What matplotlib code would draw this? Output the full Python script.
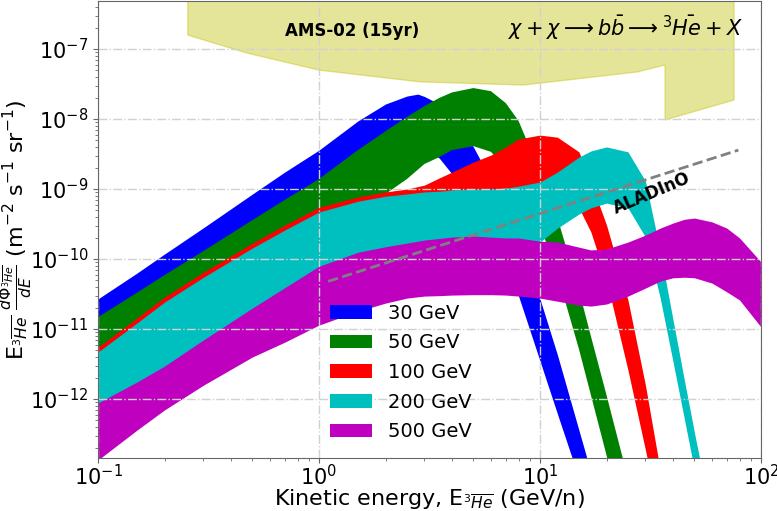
import matplotlib
matplotlib.use('Agg')
import matplotlib.pyplot as plt

# энергии (GeV/n) и потоки для каждой массы тёмной материи
e30 = [0.1, 0.15, 0.2, 0.3, 0.5, 0.7, 1, 1.5, 2, 2.5, 2.8, 3, 3.5, 4, 5, 6, 7, 8, 10, 12, 15, 17, 20]
hi30 = [2.7e-11, 6.3e-11, 1.18e-10, 2.8e-10, 8.5e-10, 1.75e-9, 3.6e-9, 9.4e-9, 1.64e-8, 2.13e-8, 2.27e-8, 2.1e-8,
        1.64e-8, 1.03e-8, 3.98e-9, 1.35e-9, 4.25e-10, 1.35e-10, 2.7e-11, 4.25e-12, 3.6e-13, 9e-14, 1e-14]
lo30 = [1.14e-11, 2.43e-11, 4.4e-11, 1.03e-10, 2.86e-10, 5.7e-10, 1.14e-9, 2.77e-9, 4.54e-9, 4.85e-9, 4.4e-9, 3.85e-9,
        2.77e-9, 1.64e-9, 6.3e-10, 2.35e-10, 9.1e-11, 2.96e-11, 3.5e-12, 6.1e-13, 7.4e-14, 2.2e-14, 3.6e-15]

e50 = [0.1, 0.15, 0.2, 0.3, 0.5, 0.7, 1, 1.5, 2, 2.5, 3, 3.5, 4, 5, 6, 7, 8, 10, 12, 15, 17, 20, 25, 30]
hi50 = [1.48e-11, 3.3e-11, 5.9e-11, 1.3e-10, 3.6e-10, 7.0e-10, 1.39e-9, 3.6e-9, 6.7e-9, 1.07e-8, 1.53e-8, 2.0e-8,
        2.4e-8, 2.77e-8, 2.5e-8, 1.69e-8, 9.4e-9, 1.75e-9, 3.85e-10, 3.6e-11, 7.9e-12, 1.14e-12, 7.4e-14, 8.2e-15]
lo50 = [3.6e-12, 8.2e-12, 1.53e-11, 3.6e-11, 9.1e-11, 1.58e-10, 2.77e-10, 5.4e-10, 8.5e-10, 1.39e-9, 2.28e-9, 2.86e-9,
        3.6e-9, 4.1e-9, 3.4e-9, 2.0e-9, 1.03e-9, 3.06e-10, 6e-11, 5.2e-12, 1.14e-12, 1.58e-13, 9.7e-15, 1e-15]

e100 = [0.1, 0.15, 0.2, 0.3, 0.5, 0.7, 1, 1.5, 2, 2.5, 3, 3.5, 4, 5, 6, 7, 8, 10, 12, 15, 17, 20, 25, 30, 35, 40]
hi100 = [5.5e-12, 1.44e-11, 2.86e-11, 6.5e-11, 1.69e-10, 3.06e-10, 5.5e-10, 7.7e-10, 9.1e-10, 1.0e-9, 1.14e-9, 1.44e-9,
         1.75e-9, 2.43e-9, 3.06e-9, 4.0e-9, 5.2e-9, 5.9e-9, 5.5e-9, 3.4e-9, 1.26e-9, 3.06e-10, 2.6e-11, 1.58e-12,
         9.7e-14, 8.2e-15]
lo100 = [2.2e-12, 5.7e-12, 1.14e-11, 2.6e-11, 7.0e-11, 1.26e-10, 2.2e-10, 3.4e-10, 4.25e-10, 5.0e-10, 5.9e-10, 7.0e-10,
         7.9e-10, 9.1e-10, 1.0e-9, 1.03e-9, 1.03e-9, 9.7e-10, 8.2e-10, 5.4e-10, 2.43e-10, 5.0e-11, 2.6e-12, 1.87e-13,
         1.87e-14, 1e-15]

e200 = [0.1, 0.15, 0.2, 0.3, 0.5, 0.7, 1, 1.5, 2, 2.5, 3, 3.5, 4, 5, 6, 7, 8, 10, 12, 15, 17, 20, 25, 30, 35, 40, 45,
        50, 60]
hi200 = [4.7e-12, 1.22e-11, 2.43e-11, 5.5e-11, 1.44e-10, 2.6e-10, 4.7e-10, 6.7e-10, 7.9e-10, 8.5e-10, 9.1e-10, 9.3e-10,
         9.7e-10, 1.0e-9, 1.0e-9, 1.03e-9, 1.1e-9, 1.26e-9, 1.75e-9, 2.86e-9, 3.5e-9, 4.0e-9, 3.4e-9, 1.3e-9,
         1.3e-10, 1.35e-11, 1.87e-12, 3.3e-13, 1.87e-14]
lo200 = [5.0e-13, 1.14e-12, 2.2e-12, 5.4e-12, 1.44e-11, 2.6e-11, 4.7e-11, 9.1e-11, 1.26e-10, 1.53e-10, 1.69e-10,
         1.8e-10, 1.87e-10, 1.93e-10, 1.93e-10, 1.93e-10, 1.93e-10, 1.75e-10, 2.77e-10, 4.4e-10, 5.4e-10, 6.3e-10,
         5.4e-10, 2.06e-10, 2.77e-11, 3.4e-12, 5.2e-13, 9.7e-14, 5e-15]

e500 = [0.1, 0.15, 0.2, 0.3, 0.5, 0.7, 1, 1.5, 2, 2.5, 3, 3.5, 4, 5, 6, 7, 8, 10, 12, 15, 17, 20, 25, 30, 35, 40, 45,
        50, 60, 70, 80, 100]
hi500 = [8.8e-13, 1.75e-12, 2.96e-12, 7.0e-12, 2.0e-11, 3.9e-11, 7.9e-11, 1.25e-10, 1.5e-10, 1.69e-10, 1.87e-10,
         1.97e-10, 2.06e-10, 2.13e-10, 2.06e-10, 2.0e-10, 2.0e-10, 1.8e-10, 1.75e-10, 1.48e-10, 1.35e-10, 1.39e-10,
         1.75e-10, 2.2e-10, 2.77e-10, 3.27e-10, 3.7e-10, 3.85e-10, 3.4e-10, 2.77e-10, 2.0e-10, 9.1e-11]
lo500 = [1.35e-13, 3.6e-13, 7.0e-13, 1.58e-12, 4.0e-12, 6.5e-12, 1.14e-11, 1.8e-11, 2.35e-11, 2.77e-11, 2.96e-11,
         3.0e-11, 3.06e-11, 3.1e-11, 3.1e-11, 3.06e-11, 2.96e-11, 2.77e-11, 2.5e-11, 2.2e-11, 2.13e-11, 2.28e-11,
         2.96e-11, 3.85e-11, 4.85e-11, 5.4e-11, 5.5e-11, 5.4e-11, 4.54e-11, 3.4e-11, 2.6e-11, 1.07e-11]

# чувствительность AMS-02 (нижняя граница области)
ams_e = [0.255, 0.255, 0.47, 1.0, 2.86, 8.4, 27.5, 36.8, 36.8, 75.5, 75.5]
ams_f = [1e-6, 1.58e-7, 8.8e-8, 5.0e-8, 3.4e-8, 3.06e-8, 4.7e-8, 5.9e-8, 9.7e-9, 1.87e-8, 1e-6]

# чувствительность ALADInO
aladino_e = [1.1, 79]
aladino_f = [4.8e-11, 3.6e-9]

bands = [(e30, lo30, hi30, 'b', '30 GeV'),
         (e50, lo50, hi50, 'g', '50 GeV'),
         (e100, lo100, hi100, 'r', '100 GeV'),
         (e200, lo200, hi200, 'c', '200 GeV'),
         (e500, lo500, hi500, 'm', '500 GeV')]

fig = plt.figure(figsize=(7.77, 5.11), dpi=100)
ax = fig.add_axes([0.1261, 0.1037, 0.8533, 0.8943])

ax.fill(ams_e, ams_f, color='y', alpha=0.4, lw=1)

for e, lo, hi, col, lab in bands:
    ax.fill_between(e, lo, hi, color=col, lw=0, label=lab)

ax.plot(aladino_e, aladino_f, '--', color='gray', lw=2)

ax.set_xscale('log')
ax.set_yscale('log')
ax.set_xlim(0.1, 100)
ax.set_ylim(1.44e-13, 4.85e-7)

ax.grid(True, which='major', ls='-.', color='0.82', lw=1)
ax.tick_params(labelsize=15, which='both', color='0.4')
ax.tick_params(axis='x', pad=1)
for s in ax.spines.values():
    s.set_color('0.4')

ax.text(1.41, 1.8e-7, 'AMS-02 (15yr)', fontsize=12, fontweight='bold', ha='center', va='center')
ax.text(24.3, 2.0e-7, r'$\chi + \chi \longrightarrow b\bar{b} \longrightarrow {}^3\bar{He} + X$',
        fontsize=15, ha='center', va='center')
ax.text(32, 8.8e-10, 'ALADInO', fontsize=12, fontweight='bold', rotation=23, ha='center', va='center')

ax.set_xlabel(r'Kinetic energy, E$_{^3\overline{He}}$ (GeV/n)', fontsize=16, labelpad=-2)
ax.set_ylabel(r'E$_{^3\overline{He}}$ $\frac{d\Phi_{^3\overline{He}}}{dE}$ (m$^{-2}$ s$^{-1}$ sr$^{-1}$)',
              fontsize=16, labelpad=-4)

ax.legend(loc='upper left', bbox_to_anchor=(0.323, 0.376), frameon=False, fontsize=14,
          handlelength=2.2, labelspacing=0.55)

plt.savefig('out.png')
